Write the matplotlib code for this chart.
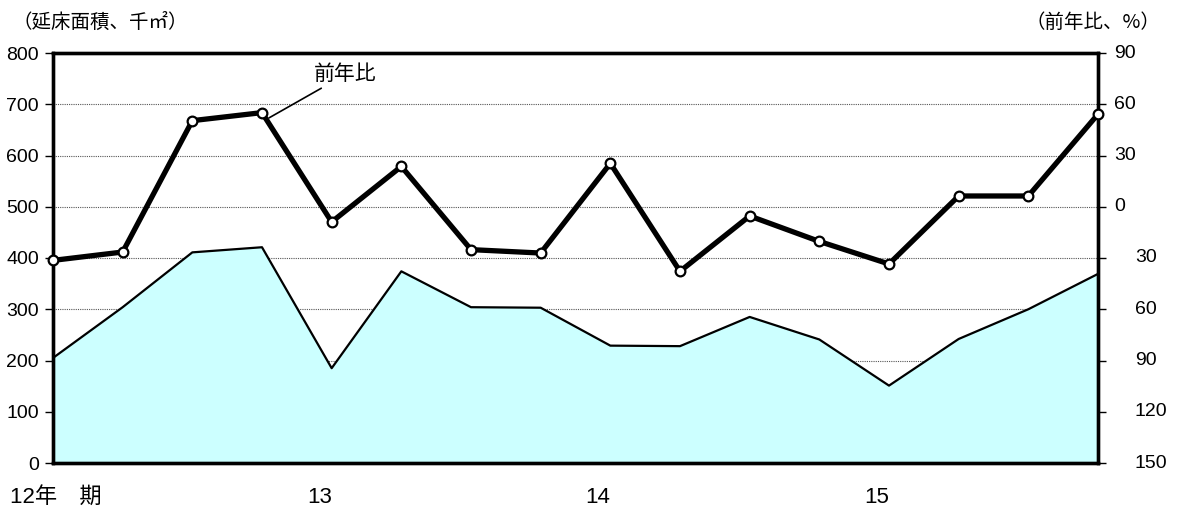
import matplotlib
matplotlib.use("Agg")
import matplotlib.pyplot as plt
import matplotlib.transforms as mtransforms
import numpy as np

plt.rcParams['font.family'] = ['Liberation Sans', 'Noto Sans CJK JP', 'DejaVu Sans']

# Quarterly series, 2012 Q1 .. 2015 Q4
quarters = list(range(16))
floor_area = [205, 304, 411, 421, 185, 374, 304, 303, 229, 228, 285, 241, 151, 242, 300, 369]
yoy_change = [-31.4, -26.5, 50.4, 55.1, -8.9, 23.6, -25.1, -27.1, 25.4, -37.8, -5.4, -20.3,
              -33.5, 6.3, 6.3, 54.2]

year_labels = ["12年　期", "13", "14", "15"]
year_positions = [0, 4, 8, 12]

left_ticks = [0, 100, 200, 300, 400, 500, 600, 700, 800]
right_ticks = [90, 60, 30, 0, -30, -60, -90, -120, -150]

W, H = 1181, 512
fig = plt.figure(figsize=(W / 100, H / 100), dpi=100)
ax = fig.add_axes([53 / W, 49 / H, (1098 - 53) / W, (463 - 53) / H])

# grid
for v in left_ticks[1:-1]:
    ax.axhline(v, color='#555555', lw=0.8, ls=(0, (1, 1)), zorder=1)

# area series
ax.fill_between(quarters, floor_area, 0, color='#CCFFFF', zorder=2, lw=0)
ax.plot(quarters, floor_area, color='black', lw=1.6, zorder=3)

ax.set_xlim(0, 15)
ax.set_ylim(0, 800)
ax.set_yticks(left_ticks)
ax.set_yticklabels([str(v) for v in left_ticks])
ax.tick_params(axis='y', direction='out', length=6, width=1, labelsize=14, pad=4)
ax.set_xticks([])
for s in ax.spines.values():
    s.set_linewidth(2.4)
    s.set_color('black')

# secondary axis for the year-on-year line
ax2 = ax.twinx()
ax2.set_ylim(-150, 90)
ax2.set_xlim(0, 15)
ax2.plot(quarters, yoy_change, color='black', lw=3.8, zorder=5, solid_joinstyle='round',
         marker='o', markersize=7, markerfacecolor='white', markeredgecolor='black',
         markeredgewidth=1.6, clip_on=False)
ax2.set_yticks(right_ticks)
ax2.set_yticklabels([])
ax2.tick_params(axis='y', direction='out', length=6, width=1)
for s in ax2.spines.values():
    s.set_linewidth(2.4)

# right axis labels (negative values shown without sign, shifted right)
tr = mtransforms.blended_transform_factory(ax2.transAxes, ax2.transData)
for v in right_ticks:
    dx = 16 if v >= 0 else 37
    off = mtransforms.offset_copy(tr, fig=fig, x=dx, y=0, units='dots')
    ax2.text(1, v, str(abs(v)), transform=off, ha='left', va='center', fontsize=14)

# year labels under the axis
trx = mtransforms.blended_transform_factory(ax.transData, ax.transAxes)
for i, (lab, pos) in enumerate(zip(year_labels, year_positions)):
    ha = 'center' if i == 0 else 'right'
    ax.text(pos + (0.04 if i == 0 else 0), -0.083, lab, transform=trx, ha=ha, va='center',
            fontsize=16, family=['Liberation Sans', 'Noto Sans CJK JP'])

# unit captions
fig.text(13 / W, 1 - 22 / H, "（延床面積、千㎡）", ha='left', va='center', fontsize=14,
         family=['Noto Sans CJK JP'])
fig.text(1160 / W, 1 - 22 / H, "（前年比、%）", ha='right', va='center', fontsize=14,
         family=['Noto Sans CJK JP'])

# series annotation
ax2.annotate("前年比", xy=(3.1, 52), xytext=(3.75, 71), textcoords='data',
             fontsize=15, family=['Noto Sans CJK JP'], ha='left', va='bottom',
             arrowprops=dict(arrowstyle='-', color='black', lw=1.2, shrinkA=0, shrinkB=0),
             zorder=6)

fig.savefig("out.png", dpi=100)
